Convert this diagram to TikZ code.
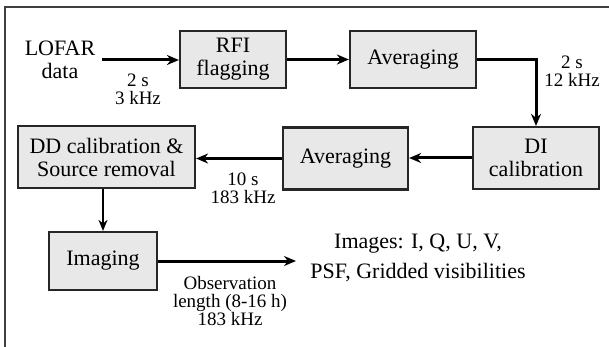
\documentclass[tikz,border=0pt]{standalone}
\usepackage{fontspec}
\setmainfont{Liberation Serif}
\usetikzlibrary{arrows.meta}

\begin{document}
\begin{tikzpicture}[x=0.5pt, y=-0.5pt,
    block/.style={draw=black!85, line width=1.1pt, fill=gray!18, inner sep=0pt, align=center, font=\fontsize{11}{11.5}\selectfont},
    rate/.style={align=center, inner sep=0pt, font=\fontsize{9.5}{9}\selectfont},
    flow/.style={line width=1.5pt, -{Stealth[length=6pt, width=5pt]}}]

    % Canvas and frame
    \useasboundingbox (0,0) rectangle (609,347);
    \draw[black!75, line width=1pt] (5,360) |- (620,7.5);

    % Processing blocks
    \node[block, minimum width=53pt, minimum height=28.5pt] (rfi) at (233,59.5) {RFI\\flagging};
    \node[block, minimum width=63pt, minimum height=28.5pt] (avg1) at (413,59.5) {Averaging};
    \node[block, minimum width=63pt, minimum height=31pt] (dical) at (536,158) {DI\\calibration};
    \node[block, minimum width=62.5pt, minimum height=31pt] (avg2) at (345.5,158.5) {Averaging};
    \node[block, minimum width=88.5pt, minimum height=31pt] (ddcal) at (106.5,157) {DD calibration \&\\Source removal};
    \node[block, minimum width=54pt, minimum height=29pt] (imaging) at (103,261) {Imaging};

    % Input and output
    \node[align=center, font=\fontsize{11}{11.5}\selectfont] (lofar) at (60,60) {LOFAR\\data};
    \node[align=center, inner sep=7pt, font=\fontsize{11}{15}\selectfont] (images) at (418,258) {Images: I, Q, U, V,\\PSF, Gridded visibilities};

    % Resolution labels
    \node[rate] (res1) at (138,89) {2 s\\3 kHz};
    \node[rate] (res2) at (572,71) {2 s\\12 kHz};
    \node[rate] (res3) at (243,188) {10 s\\183 kHz};
    \node[rate] (res4) at (230,301) {Observation\\length (8-16 h)\\183 kHz};

    % Data flow
    \draw[flow] (lofar.east) -- (lofar.east -| rfi.west);
    \draw[flow] (rfi.east) -- (avg1.west);
    \draw[flow] (avg1.east) -| (dical.north);
    \draw[flow] (dical.west) -- (dical.west -| avg2.east);
    \draw[flow] (avg2.west) -- (avg2.west -| ddcal.east);
    \draw[line width=1pt, -{Stealth[length=5.5pt, width=4.5pt]}] (ddcal.south -| imaging.north) -- (imaging.north);
    \draw[flow] (imaging.east) -- (imaging.east -| images.west);

\end{tikzpicture}
\end{document}
